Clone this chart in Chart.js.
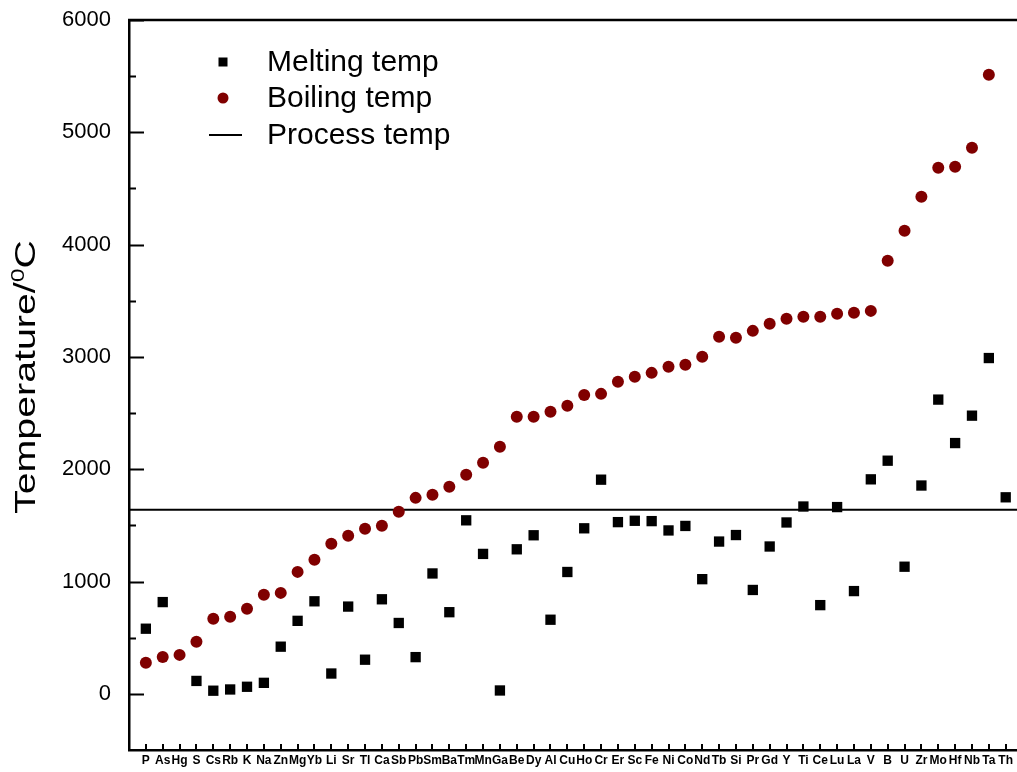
<!DOCTYPE html>
<html>
<head>
<meta charset="utf-8">
<title>Melting and boiling temperatures</title>
<script src="https://cdn.jsdelivr.net/npm/chart.js@4.4.1/dist/chart.umd.min.js"></script>
<style>
    body { margin: 0; background: #fff; }
    #wrap { width: 1017px; height: 772px; position: relative; }
</style>
</head>
<body>
<div id="wrap"><canvas id="tempChart"></canvas></div>
<script>
// Elements, ordered by boiling point
const elements = ['P', 'As', 'Hg', 'S', 'Cs', 'Rb', 'K', 'Na', 'Zn', 'Mg', 'Yb', 'Li', 'Sr', 'Tl', 'Ca', 'Sb', 'Pb',
    'Sm', 'Ba', 'Tm', 'Mn', 'Ga', 'Be', 'Dy', 'Al', 'Cu', 'Ho', 'Cr', 'Er', 'Sc', 'Fe', 'Ni', 'Co', 'Nd',
    'Tb', 'Si', 'Pr', 'Gd', 'Y', 'Ti', 'Ce', 'Lu', 'La', 'V', 'B', 'U', 'Zr', 'Mo', 'Hf', 'Nb', 'Ta', 'Th'];

const meltingTemp = [580, 817, null, 115, 28, 39, 63, 98, 420, 650, 824, 181, 777, 304, 842, 631, 327,
    1072, 727, 1545, 1246, 30, 1287, 1412, 660, 1085, 1474, 1907, 1529, 1541, 1538, 1455, 1495, 1021,
    1356, 1414, 925, 1312, 1526, 1668, 790, 1663, 915, 1910, 2076, 1132, 1855, 2620, 2233, 2477, 2990, 1750];

const boilingTemp = [276, 329, 347, 463, 668, 686, 757, 882, 899, 1086, 1193, 1336, 1407, 1469, 1496, 1621, 1745,
    1772, 1843, 1950, 2057, 2200, 2467, 2467, 2511, 2565, 2662, 2671, 2778, 2823, 2858, 2912, 2930, 3001,
    3179, 3170, 3232, 3295, 3339, 3357, 3357, 3384, 3393, 3410, 3856, 4123, 4426, 4684, 4693, 4862, 5512, null];

const processTemp = 1640;

const yTickLabels = ['0', '1000', '2000', '3000', '4000', '5000', '6000'];

const X_MIN = 0, X_MAX = 52.67;
const FONT = '"Liberation Sans", Arial, sans-serif';
const BOIL_COLOR = '#800000';

const toPoints = arr => arr.map((v, i) => ({ x: i + 1, y: v }));

// inward tick marks + top frame line
const tickMarks = {
    id: 'tickMarks',
    afterDraw(chart) {
        const ctx = chart.ctx;
        const area = chart.chartArea;
        const xs = chart.scales.x, ys = chart.scales.y;
        ctx.save();
        ctx.strokeStyle = '#000';
        ctx.lineWidth = 2;
        ctx.beginPath();
        ys.ticks.forEach(t => {
            if (t.value <= ys.min) return;
            const y = Math.round(ys.getPixelForValue(t.value)) + 0.5;
            const len = t.value % 1000 === 0 ? 15 : 7;
            ctx.moveTo(area.left, y);
            ctx.lineTo(area.left + len, y);
        });
        xs.ticks.forEach(t => {
            const x = Math.round(xs.getPixelForValue(t.value));
            ctx.moveTo(x, area.bottom);
            ctx.lineTo(x, area.bottom - 6);
        });
        ctx.stroke();
        ctx.lineWidth = 2.5;
        ctx.beginPath();
        ctx.moveTo(area.left - 1, area.top);
        ctx.lineTo(area.right, area.top);
        ctx.stroke();
        ctx.restore();
    }
};

// legend drawn inside the plot area
const innerLegend = {
    id: 'innerLegend',
    afterDraw(chart) {
        const ctx = chart.ctx;
        const mx = 223, tx = 267;
        const rows = [62, 98, 135];
        ctx.save();
        ctx.font = '30px ' + FONT;
        ctx.textBaseline = 'middle';
        ctx.fillStyle = '#000';
        chart.data.datasets.forEach((ds, i) => {
            const y = rows[i];
            if (ds.type === 'line') {
                ctx.strokeStyle = ds.borderColor;
                ctx.lineWidth = 2;
                ctx.beginPath();
                ctx.moveTo(209, y);
                ctx.lineTo(242, y);
                ctx.stroke();
            } else if (ds.pointStyle === 'rect') {
                ctx.fillStyle = ds.backgroundColor;
                ctx.fillRect(mx - 4.5, y - 4.5, 9, 9);
            } else {
                ctx.fillStyle = ds.backgroundColor;
                ctx.beginPath();
                ctx.arc(mx, y, 5.5, 0, Math.PI * 2);
                ctx.fill();
            }
            ctx.fillStyle = '#000';
            ctx.fillText(ds.label, tx, y + 1);
        });
        ctx.restore();
    }
};

// rotated y-axis title with superscript degree mark
const yTitle = {
    id: 'yTitle',
    afterDraw(chart) {
        const ctx = chart.ctx;
        const main = 'Temperature/', sup = '0', unit = 'C';
        ctx.save();
        ctx.translate(35, 377);
        ctx.rotate(-Math.PI / 2);
        ctx.scale(1.31, 1);
        ctx.fillStyle = '#000';
        ctx.textBaseline = 'alphabetic';
        ctx.font = '30px ' + FONT;
        const w1 = ctx.measureText(main).width;
        const w3 = ctx.measureText(unit).width;
        ctx.font = '19px ' + FONT;
        const w2 = ctx.measureText(sup).width;
        let x = -(w1 + w2 + w3) / 2;
        ctx.font = '30px ' + FONT;
        ctx.fillText(main, x, 0);
        x += w1;
        ctx.font = '19px ' + FONT;
        ctx.fillText(sup, x, -11);
        x += w2;
        ctx.font = '30px ' + FONT;
        ctx.fillText(unit, x, 0);
        ctx.restore();
    }
};

const ctx = document.getElementById('tempChart').getContext('2d');
new Chart(ctx, {
    type: 'scatter',
    data: {
        datasets: [
            {
                label: 'Melting temp',
                data: toPoints(meltingTemp),
                pointStyle: 'rect',
                pointRadius: 7.3,
                backgroundColor: '#000',
                borderWidth: 0
            },
            {
                label: 'Boiling temp',
                data: toPoints(boilingTemp),
                pointStyle: 'circle',
                pointRadius: 6,
                backgroundColor: BOIL_COLOR,
                borderWidth: 0
            },
            {
                type: 'line',
                label: 'Process temp',
                data: [{ x: X_MIN, y: processTemp }, { x: X_MAX, y: processTemp }],
                borderColor: '#000',
                borderWidth: 2,
                pointRadius: 0,
                fill: false
            }
        ]
    },
    options: {
        responsive: true,
        maintainAspectRatio: false,
        animation: false,
        layout: { autoPadding: false, padding: { top: 20, right: 0, bottom: 0, left: 0 } },
        plugins: {
            legend: { display: false },
            tooltip: { enabled: false }
        },
        scales: {
            x: {
                type: 'linear',
                min: X_MIN,
                max: X_MAX,
                grid: { display: false, drawTicks: false },
                border: { display: true, color: '#000', width: 2.5 },
                afterBuildTicks: scale => {
                    scale.ticks = elements.map((_, i) => ({ value: i + 1 }));
                },
                afterFit: scale => { scale.height = 22; },
                ticks: {
                    autoSkip: false,
                    maxRotation: 0,
                    padding: 3,
                    color: '#000',
                    font: { family: FONT, size: 12, weight: 'bold' },
                    callback: v => elements[v - 1] || ''
                }
            },
            y: {
                min: -500,
                max: 6000,
                // ticks kept invisible, they only push the labels away from the axis
                grid: { display: false, drawTicks: true, tickLength: 18, tickColor: 'rgba(0,0,0,0)' },
                border: { display: true, color: '#000', width: 2.5 },
                afterFit: scale => { scale.width = 129; },
                ticks: {
                    stepSize: 500,
                    padding: 0,
                    color: '#000',
                    font: { family: FONT, size: 22 },
                    callback: v => yTickLabels.includes(String(v)) ? String(v) : ''
                }
            }
        }
    },
    plugins: [tickMarks, innerLegend, yTitle]
});
</script>
</body>
</html>
